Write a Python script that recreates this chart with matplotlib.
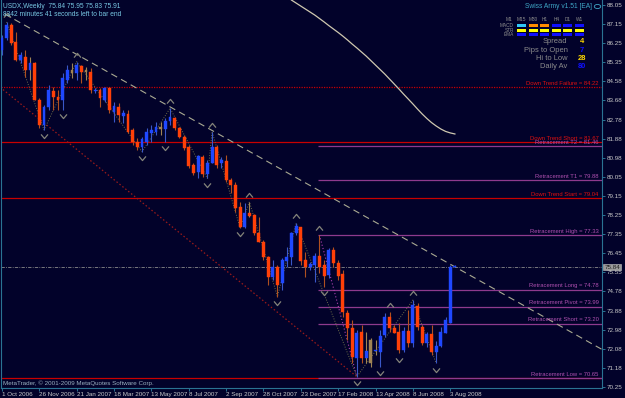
import numpy as np
import matplotlib
matplotlib.use("Agg")
import matplotlib.pyplot as plt
from matplotlib.path import Path
from matplotlib.transforms import blended_transform_factory

# ------------------------------------------------------------------ data
symbol_title = "USDX,Weekly  75.84 75.95 75.83 75.91"
timer_text = "8342 minutes 41 seconds left to bar end"
copyright_text = "MetaTrader, \u00a9 2001-2009 MetaQuotes Software Corp."
ea_title = "Swiss Army v1.51 [EA]"

date_labels = ["1 Oct 2006", "26 Nov 2006", "21 Jan 2007", "18 Mar 2007",
               "13 May 2007", "8 Jul 2007", "2 Sep 2007", "28 Oct 2007",
               "23 Dec 2007", "17 Feb 2008", "13 Apr 2008", "8 Jun 2008",
               "3 Aug 2008"]
date_label_step = 8  # weeks between labels

opens = [85.95, 86.51, 87.12, 86.34, 85.49, 85.64, 85.02, 85.33, 83.62, 82.46,
         83.31, 84.04, 83.78, 83.62, 84.56, 85.02, 84.87, 85.21, 84.94, 84.94,
         84.04, 84.09, 83.62, 84.18, 83.08, 83.31, 82.88, 82.96, 82.23, 81.68,
         81.45, 81.68, 82.10, 82.15, 82.38, 82.26, 82.66, 82.80, 82.30, 81.91,
         81.45, 80.59, 80.28, 80.98, 80.17, 80.70, 81.42, 80.67, 80.78, 79.90,
         79.66, 78.62, 77.72, 78.34, 78.27, 77.43, 77.02, 76.32, 75.39, 75.86,
         75.08, 76.13, 76.29, 77.41, 77.69, 76.17, 75.83, 75.93, 76.35, 75.93,
         75.47, 76.63, 76.04, 75.51, 73.71, 73.01, 71.59, 72.83, 71.59, 72.44,
         71.94, 71.89, 72.67, 73.50, 73.01, 72.83, 71.97, 72.87, 72.29, 74.02,
         73.06, 72.29, 72.72, 71.89, 72.17, 72.78, 73.24, 75.84]
highs = [86.65, 87.26, 87.22, 86.81, 85.87, 85.95, 85.64, 85.41, 83.72, 83.39,
         84.32, 84.24, 84.09, 84.87, 85.25, 85.33, 85.41, 85.25, 85.17, 85.10,
         84.18, 84.18, 84.24, 84.24, 83.54, 83.47, 83.16, 83.16, 82.30, 81.84,
         81.92, 82.30, 82.46, 82.61, 82.61, 82.77, 83.24, 82.85, 82.38, 81.99,
         81.53, 80.67, 81.06, 81.06, 80.83, 82.15, 81.53, 80.98, 81.06, 79.99,
         79.82, 78.88, 78.81, 78.88, 78.30, 78.19, 77.10, 76.35, 76.17, 75.93,
         76.26, 76.79, 77.49, 77.88, 77.72, 76.55, 76.09, 76.48, 77.33, 76.17,
         76.71, 76.79, 76.17, 75.70, 73.84, 73.37, 72.90, 73.14, 72.83, 72.55,
         72.44, 72.90, 73.68, 73.76, 73.14, 73.21, 73.06, 73.84, 74.30, 74.15,
         73.14, 72.83, 73.14, 72.40, 73.06, 73.53, 75.93, 75.95]
lows = [85.72, 86.42, 86.19, 85.45, 85.33, 84.71, 84.56, 83.60, 82.32, 82.23,
        83.16, 83.16, 83.16, 83.16, 84.40, 84.63, 84.56, 84.40, 84.56, 83.94,
        83.94, 83.31, 83.54, 83.00, 82.61, 82.61, 82.54, 82.07, 81.53, 81.29,
        81.21, 81.53, 81.68, 81.99, 81.99, 81.68, 82.46, 82.23, 81.84, 81.29,
        80.44, 80.13, 79.97, 80.05, 79.97, 80.67, 80.44, 80.44, 79.82, 79.29,
        78.42, 77.66, 77.64, 78.15, 77.33, 77.00, 76.17, 75.00, 75.23, 74.46,
        74.77, 75.86, 75.93, 77.33, 75.93, 75.39, 75.70, 75.16, 75.54, 74.91,
        75.31, 75.86, 75.23, 73.53, 72.44, 71.37, 70.73, 71.35, 71.35, 71.20,
        71.74, 71.19, 72.59, 72.83, 72.75, 71.83, 71.89, 72.13, 72.13, 72.90,
        72.21, 72.13, 71.74, 71.35, 72.13, 72.75, 73.21, 75.83]
closes = [86.51, 87.12, 86.27, 85.49, 85.72, 85.02, 85.33, 83.62, 82.46, 83.31,
          84.09, 83.78, 83.62, 84.63, 85.02, 84.87, 85.25, 84.94, 85.02, 84.09,
          84.09, 83.70, 84.18, 83.16, 83.34, 82.92, 83.00, 82.15, 81.68, 81.45,
          81.79, 82.15, 82.23, 82.38, 82.26, 82.64, 82.85, 82.30, 81.91, 81.37,
          80.56, 80.23, 81.01, 80.17, 80.70, 81.45, 80.59, 80.83, 79.90, 79.66,
          78.57, 77.72, 78.34, 78.22, 77.43, 77.02, 76.32, 75.39, 75.86, 75.00,
          76.17, 76.32, 77.41, 77.75, 76.13, 75.83, 75.98, 76.35, 75.86, 75.42,
          76.63, 76.04, 75.42, 73.76, 73.01, 71.66, 72.78, 71.59, 71.94, 71.35,
          71.96, 72.63, 73.50, 73.01, 72.78, 71.97, 72.87, 72.31, 74.07, 73.06,
          72.29, 72.72, 71.89, 72.17, 72.83, 73.37, 75.86, 75.91]

price_labels = ["88.05", "87.15", "86.25", "85.35", "84.58", "83.68", "82.78",
                "81.88", "80.98", "80.05", "79.15", "78.25", "77.35", "76.45",
                "75.55", "74.78", "73.88", "72.98", "72.08", "71.18", "70.25"]
price_top, price_bottom = 88.05, 70.25
current_price = 75.84

red_level_names = ["Down Trend Failure", "Down Trend Short", "Down Trend Start", ""]
red_level_values = [84.22, 81.67, 79.04, 70.65]
retr_names = ["Retracement T2", "Retracement T1", "Retracement High",
              "Retracement Long", "Retracement Pivot", "Retracement Short",
              "Retracement Low"]
retr_values = [81.46, 79.88, 77.33, 74.78, 73.99, 73.20, 70.65]
retr_start_week = 68

ma_weeks = list(range(62, 98))
ma_values = [88.28, 88.14, 88.00, 87.86, 87.72, 87.58, 87.42, 87.26, 87.09,
             86.93, 86.77, 86.60, 86.42, 86.23, 86.05, 85.86, 85.67, 85.46,
             85.25, 85.04, 84.83, 84.60, 84.37, 84.14, 83.90, 83.67, 83.44,
             83.20, 82.97, 82.76, 82.57, 82.41, 82.27, 82.16, 82.09, 82.04]

trend_weeks = [0.6, 128.5]
trend_values = [87.63, 72.00]
channel_weeks = [-0.4, 76]
channel_values = [84.22, 70.73]
retr_diag_weeks = [68, 76]
retr_diag_values = [77.33, 70.73]

fractal_high_weeks = [1, 16, 36, 45, 53, 63, 68, 83, 88]
fractal_low_weeks = [9, 13, 30, 35, 44, 51, 59, 69, 76, 81, 85, 93]
zigzag_weeks = [1, 9, 16, 30, 36, 44, 45, 51, 53, 59, 63, 76, 88, 93]

panel_timeframes = ["M1", "M15", "M30", "H1", "H4", "D1", "W1"]
panel_rows = ["MACD", "STR", "EMA"]
stat_names = ["Spread", "Pips to Open", "Hi to Low", "Daily Av"]
stat_values = ["4", "7", "28", "80"]

# ------------------------------------------------------------------ style
BG = "#02022a"
UP = "#1f48ff"
DOWN = "#ff4008"
TAN = "#a08454"
UP_WICK = "#3a58c8"
DOWN_WICK = "#b05020"
FRAME = "#2a7393"
RED = "#c80000"
PURPLE = "#8e3a8e"
PURPLE_TXT = "#b050b0"
TXT = "#c8c8c8"
tan_bodies = [15, 18, 34, 79]
tan_wicks = [6, 53, 78, 80]
panel_colors = [["#30c8f8", "#ff8c00", "#ff8c00", "#1010ff", "#1010ff", "#1010ff"],
                ["#ffff00"] * 6,
                ["#1010ff"] * 6]
stat_colors = ["#ffd700", "#1010ff", "#ffd700", "#1010ff"]

FONT = "Liberation Sans"
plt.rcParams["font.family"] = [FONT, "DejaVu Sans"]

W, H = 625, 398
fig = plt.figure(figsize=(W / 100, H / 100), dpi=100, facecolor=BG)
# axes occupies pixels x 1..602, y 0..388
ax = fig.add_axes([1 / W, 10 / H, 601 / W, 388 / H], facecolor=BG)


def fx(x):
    return x / W


def fy(y):
    return 1 - y / H


n = len(opens)
weeks = np.arange(n)
o = np.array(opens); c = np.array(closes); hi = np.array(highs); lo = np.array(lows)
up = c >= o

# horizontal levels
for name, v in zip(red_level_names, red_level_values):
    ls = (0, (1, 1)) if name == "Down Trend Failure" else "-"
    ax.axhline(v, color=RED, lw=0.9, ls=ls, zorder=1)
for v in retr_values:
    ax.hlines(v, retr_start_week - 0.4, 130, color=PURPLE, lw=0.9, zorder=1.1)
ax.axhline(current_price, color="#8a8a8a", lw=0.6, ls=(0, (4, 1.5, 1, 1.5)), zorder=1)

# moving average
ax.plot(ma_weeks, ma_values, color="#cfc8b0", lw=0.9, zorder=2)
# trend lines
ax.plot(trend_weeks, trend_values, color="#aaaa92", lw=0.8, ls=(0, (6, 4)), zorder=2)
ax.plot(channel_weeks, channel_values, color="#9a1a1a", lw=0.9, ls=(0, (1.2, 1.8)), zorder=2)
ax.plot(retr_diag_weeks, retr_diag_values, color="#b040b0", lw=0.8, ls=(0, (1, 2)), zorder=2)

# zigzag
zz_vals = [highs[w] if w in fractal_high_weeks else lows[w] for w in zigzag_weeks]
ax.plot(zigzag_weeks, zz_vals, color="#6e6e48", lw=0.7, ls=(0, (1, 1.6)), zorder=2)

# candles
wick_cols = []
body_cols = []
for i in range(n):
    if i in tan_bodies:
        body_cols.append(TAN); wick_cols.append(TAN)
    else:
        body_cols.append(UP if up[i] else DOWN)
        wick_cols.append(TAN if i in tan_wicks else (UP_WICK if up[i] else DOWN_WICK))
ax.vlines(weeks, lo, hi, colors=wick_cols, lw=0.8, zorder=3)
body_h = np.where(np.abs(c - o) < 0.03, 0.03, c - o)
ax.bar(weeks, body_h, bottom=o, width=0.62, color=body_cols,
       edgecolor=body_cols, linewidth=0.3, zorder=4)

# fractal arrows
up_chev = Path([(-1, -0.6), (0, 0.6), (1, -0.6)], [Path.MOVETO, Path.LINETO, Path.LINETO])
dn_chev = Path([(-1, 0.6), (0, -0.6), (1, 0.6)], [Path.MOVETO, Path.LINETO, Path.LINETO])
ax.plot(fractal_high_weeks, [highs[w] + 0.32 for w in fractal_high_weeks], ls="none",
        marker=up_chev, ms=5, mfc="none", mec="#84847a", mew=0.9, zorder=5)
ax.plot(fractal_low_weeks, [lows[w] - 0.30 for w in fractal_low_weeks], ls="none",
        marker=dn_chev, ms=5, mfc="none", mec="#84847a", mew=0.9, zorder=5)

# level labels
tr = blended_transform_factory(ax.transAxes, ax.transData)
for name, v in zip(red_level_names, red_level_values):
    if name:
        ax.text(0.994, v + 0.06, f"{name} = {v:.2f}", transform=tr, ha="right",
                va="bottom", fontsize=4.2, color="#e01010", zorder=6)
for name, v in zip(retr_names, retr_values):
    ax.text(0.994, v + 0.06, f"{name} = {v:.2f}", transform=tr, ha="right",
            va="bottom", fontsize=4.2, color=PURPLE_TXT, zorder=6)

# axes limits / ticks
ax.set_xlim(-0.2, 128.5)
ax.set_ylim(70.203, 88.283)
ax.yaxis.tick_right()
ax.set_yticks(np.linspace(price_top, price_bottom, len(price_labels)))
ax.set_yticklabels(price_labels)
ax.set_xticks(np.arange(len(date_labels)) * date_label_step)
ax.set_xticklabels(date_labels)
for lab in ax.get_xticklabels():
    lab.set_ha("left")
ax.tick_params(axis="y", colors=FRAME, labelcolor=TXT, length=2.5, width=0.7,
               pad=1, labelsize=4.5)
ax.tick_params(axis="x", colors=FRAME, labelcolor=TXT, length=2.5, width=0.7,
               pad=0.5, labelsize=4.5)
for side, sp in ax.spines.items():
    sp.set_color(FRAME)
    sp.set_linewidth(0.8)
ax.spines["top"].set_visible(False)

# current price box
ax.text(1.004, current_price, f"{current_price:.2f}", transform=tr, ha="left",
        va="center", fontsize=4.5, color="#202020", zorder=7, clip_on=False,
        bbox=dict(boxstyle="square,pad=0.15", fc="#9a9a9a", ec="#c0c0c0", lw=0.4))

# header texts
fig.text(fx(3), fy(7), symbol_title, fontsize=4.8, color="#78c8e4", va="center")
fig.text(fx(3), fy(15), timer_text, fontsize=4.8, color="#78c8e4", va="center")
fig.text(fx(3), fy(383.5), copyright_text, fontsize=4.5, color="#9ab0c0", va="center")

# EA panel
fig.text(fx(592), fy(7), ea_title, fontsize=4.8, color="#3fa8c8", ha="right", va="center")
circ = plt.Circle((fx(597.5), fy(6.5)), 3.2 / W, transform=fig.transFigure,
                  fill=False, ec="#3fa8c8", lw=0.6)
fig.add_artist(circ)
col_x = [509, 521.7, 533.3, 544.7, 556.3, 567.7, 579.3]
for name, x in zip(panel_timeframes, col_x):
    fig.text(fx(x), fy(19.3), name, fontsize=3.4, color="#8c8c8c", ha="center", va="center")
row_y = [25.3, 30.2, 34.4]
for r, (rname, y) in enumerate(zip(panel_rows, row_y)):
    fig.text(fx(514), fy(y), rname, fontsize=3.4, color="#8c8c8c", ha="right", va="center")
    for k, x in enumerate(col_x[1:]):
        rect = plt.Rectangle((fx(x - 4.6), fy(y + 1.5)), 9.2 / W, 3.0 / H,
                             transform=fig.transFigure, fc=panel_colors[r][k], ec="none")
        fig.add_artist(rect)
stat_y = [41.7, 50.0, 58.3, 66.7]
for name, val, col, y in zip(stat_names, stat_values, stat_colors, stat_y):
    fig.text(fx(567.5), fy(y), name, fontsize=5.4, color="#8c8c8c", ha="right", va="center")
    fig.text(fx(582), fy(y), val, fontsize=5.4, color=col, ha="center", va="center",
             fontweight="bold")

fig.savefig("out.png", dpi=100, facecolor=BG)
